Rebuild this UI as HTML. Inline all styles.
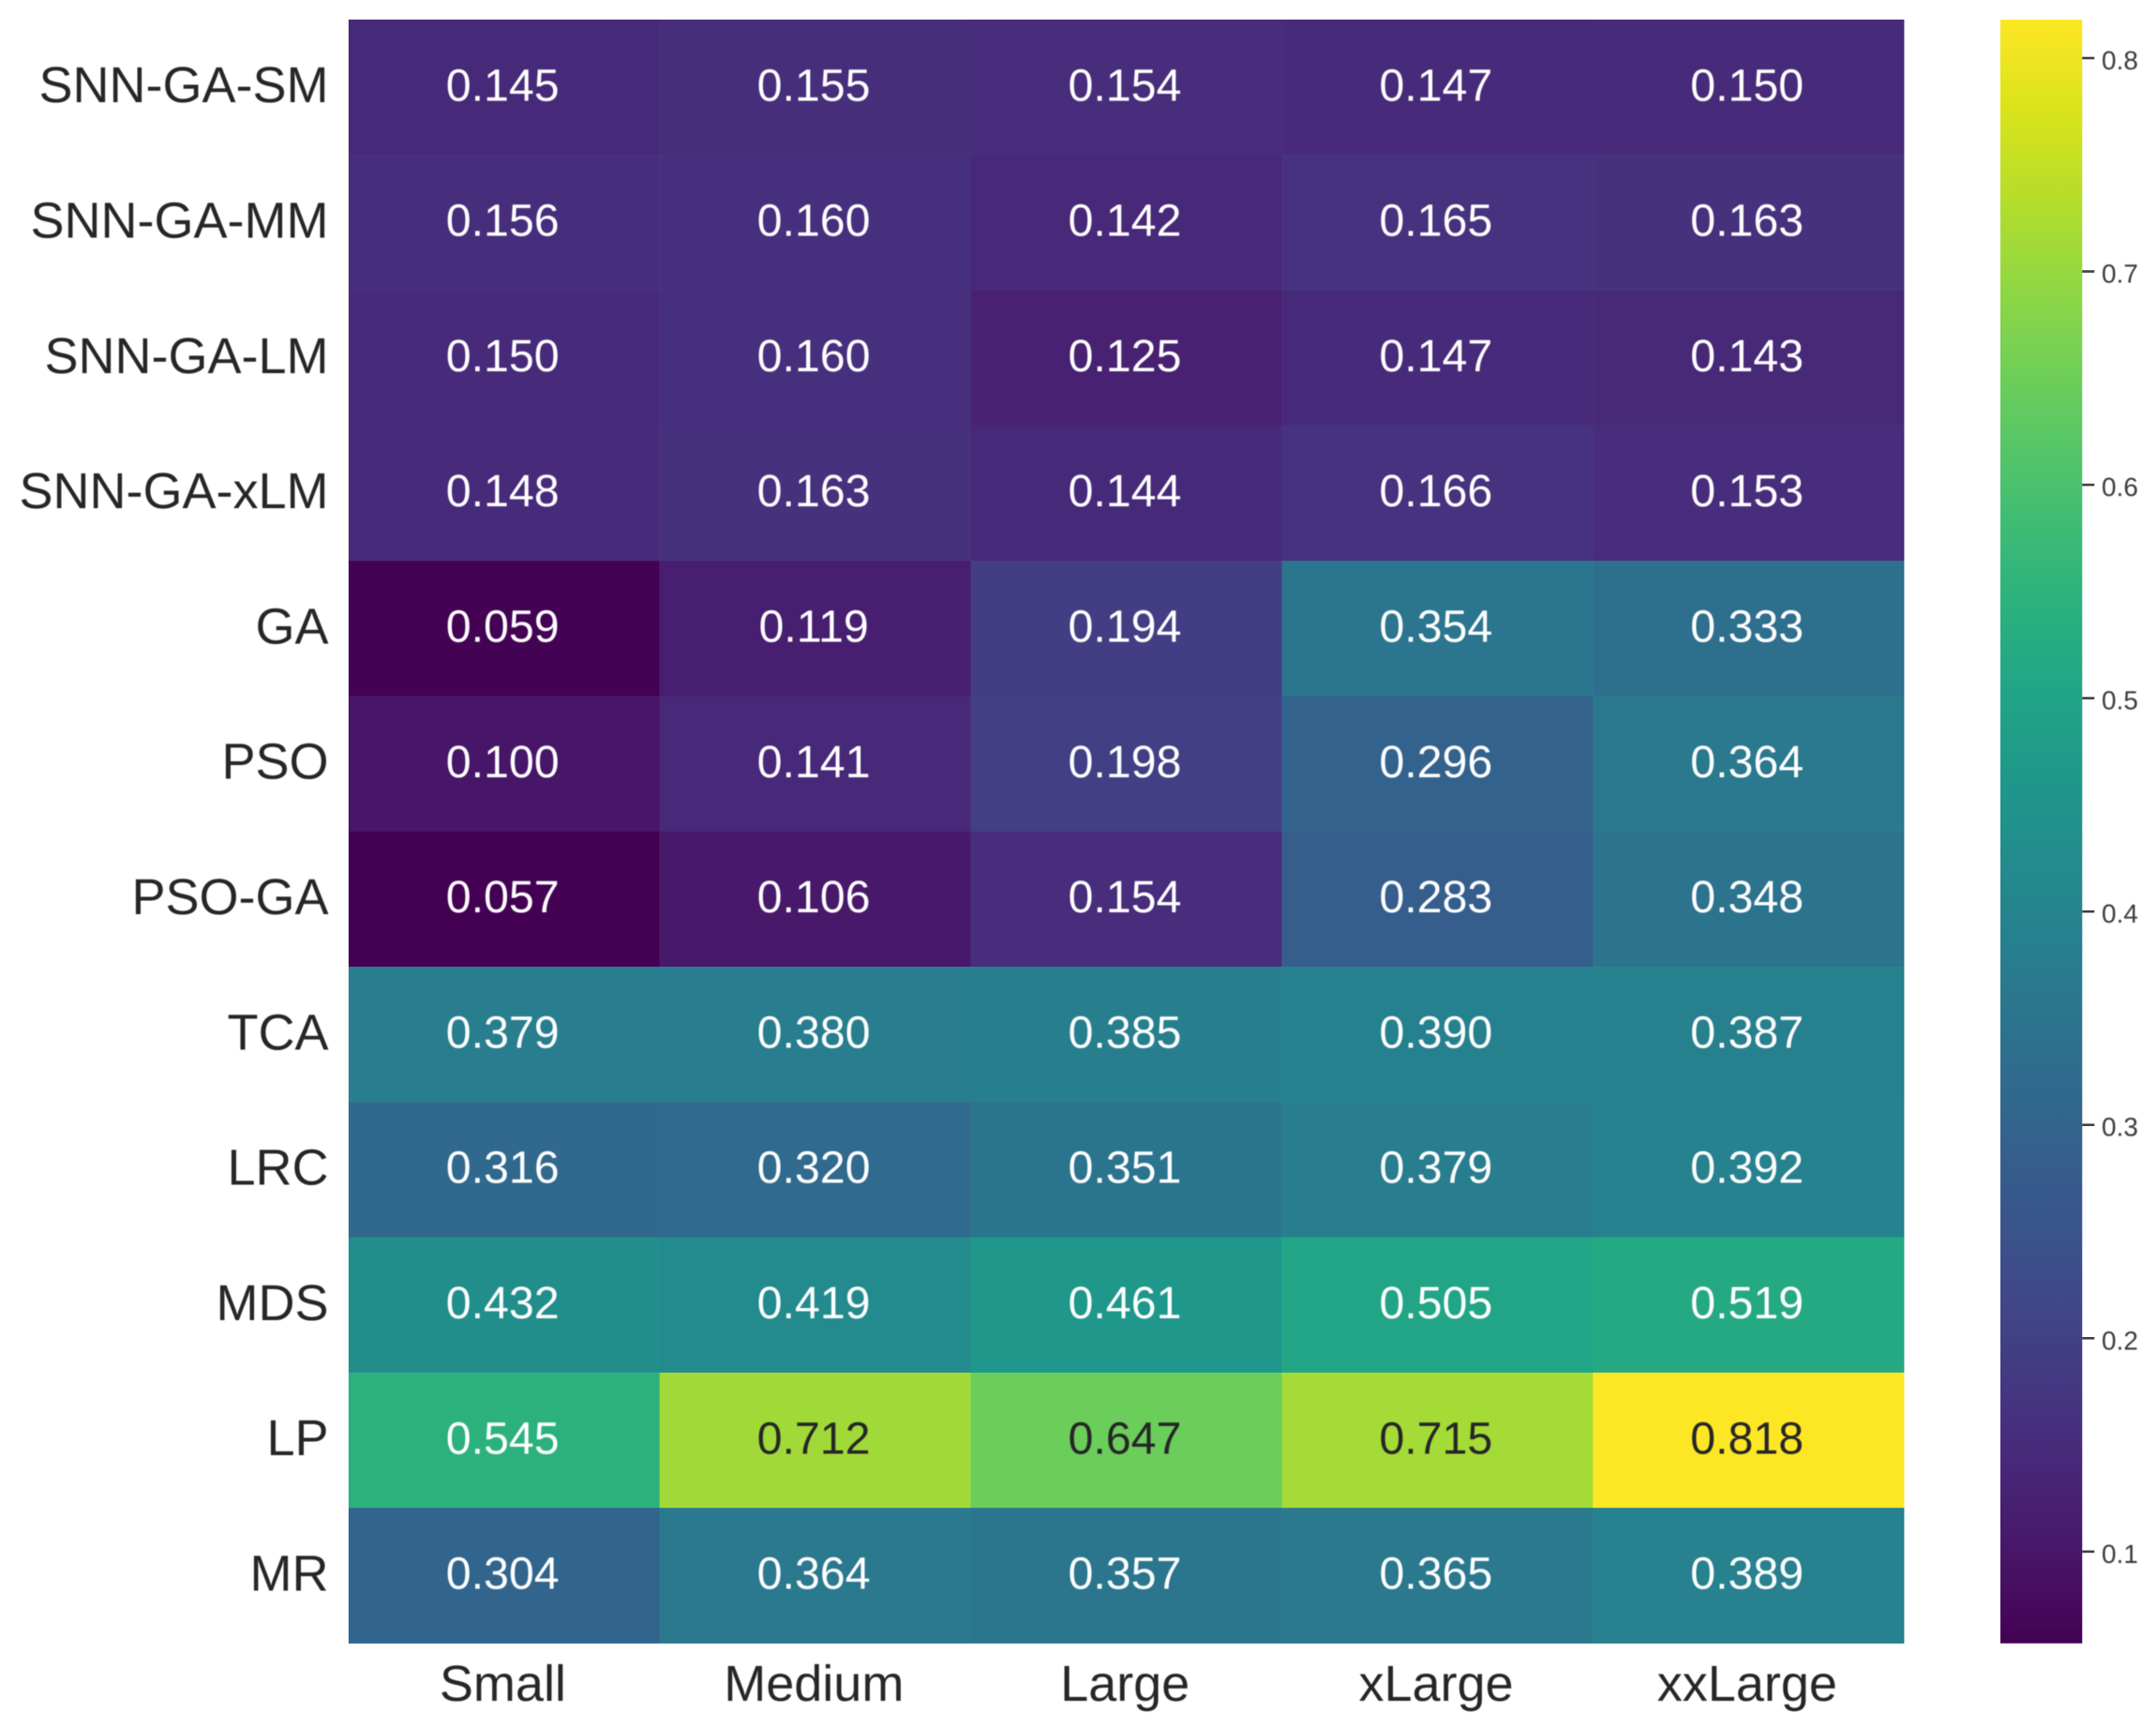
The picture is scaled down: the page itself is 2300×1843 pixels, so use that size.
<!DOCTYPE html>
<html lang="en">
<head>
<meta charset="utf-8">
<title>Heatmap</title>
<style>
html,body{margin:0;padding:0;background:#fff;width:2300px;height:1843px;overflow:hidden}
svg{display:block;font-family:"Liberation Sans",Arial,sans-serif}
text{filter:blur(0.5px);text-rendering:geometricPrecision}
</style>
</head>
<body>
<svg id="chart" xmlns="http://www.w3.org/2000/svg" width="2300" height="1843" viewBox="0 0 2300 1843">
<defs><linearGradient id="viridis-gradient" x1="0" y1="1" x2="0" y2="0"></linearGradient></defs>
<rect x="0" y="0" width="2300" height="1843" fill="#ffffff"></rect>
</svg>
<script>
const rowLabels = ["SNN-GA-SM","SNN-GA-MM","SNN-GA-LM","SNN-GA-xLM","GA","PSO","PSO-GA","TCA","LRC","MDS","LP","MR"];
const colLabels = ["Small","Medium","Large","xLarge","xxLarge"];
const rowSmall = [0.145,0.156,0.150,0.148,0.059,0.100,0.057,0.379,0.316,0.432,0.545,0.304];
const rowMedium = [0.155,0.160,0.160,0.163,0.119,0.141,0.106,0.380,0.320,0.419,0.712,0.364];
const rowLarge = [0.154,0.142,0.125,0.144,0.194,0.198,0.154,0.385,0.351,0.461,0.647,0.357];
const rowXLarge = [0.147,0.165,0.147,0.166,0.354,0.296,0.283,0.390,0.379,0.505,0.715,0.365];
const rowXxLarge = [0.150,0.163,0.143,0.153,0.333,0.364,0.348,0.387,0.392,0.519,0.818,0.389];
const colorbarTicks = [0.1,0.2,0.3,0.4,0.5,0.6,0.7,0.8];
const viridisStops = ["#440154","#481567","#482677","#453781","#404788","#39568c","#33638d","#2d708e","#287d8e","#238a8d","#1f968b","#20a387","#29af7f","#3cbb75","#55c667","#73d055","#95d840","#b8de29","#dce319","#fde725"];

const seriesByCol = [rowSmall,rowMedium,rowLarge,rowXLarge,rowXxLarge];
const NS = "http://www.w3.org/2000/svg";
const svg = document.getElementById("chart");
const plot = {left:372,right:2031.3,top:21,bottom:1752.7};
const bar = {left:2134,right:2221.3};
const allValues = seriesByCol.flat();
const vmin = Math.min(...allValues);
const vmax = Math.max(...allValues);

function xBand(c){return plot.left+(plot.right-plot.left)*c/colLabels.length;}
function yBand(r){return plot.top+(plot.bottom-plot.top)*r/rowLabels.length;}
function yBar(v){return plot.bottom-(plot.bottom-plot.top)*(v-vmin)/(vmax-vmin);}
function hexToRgb(h){return [1,3,5].map(function(i){return parseInt(h.slice(i,i+2),16);});}
function colorAt(v){
  const t=Math.max(0,Math.min(1,(v-vmin)/(vmax-vmin)))*(viridisStops.length-1);
  const i=Math.min(Math.floor(t),viridisStops.length-2);
  const a=hexToRgb(viridisStops[i]),b=hexToRgb(viridisStops[i+1]),f=t-i;
  return a.map(function(x,k){return Math.round(x+(b[k]-x)*f);});
}
function luminance(rgb){
  const l=rgb.map(function(x){const s=x/255;return s<=0.03928?s/12.92:Math.pow((s+0.055)/1.055,2.4);});
  return 0.2126*l[0]+0.7152*l[1]+0.0722*l[2];
}
function make(tag,attrs,text){
  const el=document.createElementNS(NS,tag);
  for(const k in attrs){el.setAttribute(k,attrs[k]);}
  if(text!==undefined){el.textContent=text;}
  return el;
}

const grad=document.getElementById("viridis-gradient");
viridisStops.forEach(function(c,i){
  grad.appendChild(make("stop",{offset:i/(viridisStops.length-1),"stop-color":c}));
});

colLabels.forEach(function(colName,c){
  rowLabels.forEach(function(rowName,r){
    const v=seriesByCol[c][r];
    const rgb=colorAt(v);
    const x0=xBand(c),x1=xBand(c+1),y0=yBand(r),y1=yBand(r+1);
    const cell=make("rect",{x:x0,y:y0,width:x1-x0,height:y1-y0,fill:"rgb("+rgb.join(",")+")","shape-rendering":"auto",stroke:"rgb("+rgb.join(",")+")","stroke-width":0.3});
    
    
    svg.appendChild(cell);
  });
});
colLabels.forEach(function(colName,c){
  rowLabels.forEach(function(rowName,r){
    const v=seriesByCol[c][r];
    const rgb=colorAt(v);
    const fill=luminance(rgb)<0.408?"#ffffff":"#262626";
    const t=make("text",{x:(xBand(c)+xBand(c+1))/2-1.7,y:(yBand(r)+yBand(r+1))/2+14.1,"text-anchor":"middle","font-size":48.3,fill:fill},v.toFixed(3));
    
    
    svg.appendChild(t);
  });
});
rowLabels.forEach(function(name,r){
  const t=make("text",{x:350.5,y:(yBand(r)+yBand(r+1))/2+16,"text-anchor":"end","font-size":54,fill:"#262626"},name);
  
  
  svg.appendChild(t);
});
colLabels.forEach(function(name,c){
  const t=make("text",{x:(xBand(c)+xBand(c+1))/2-1.5,y:1814,"text-anchor":"middle","font-size":54,fill:"#262626"},name);
  
  
  svg.appendChild(t);
});

const cbar=make("rect",{x:bar.left,y:plot.top,width:bar.right-bar.left,height:plot.bottom-plot.top,fill:"url(#viridis-gradient)"});


svg.appendChild(cbar);

colorbarTicks.forEach(function(v){
  const y=yBar(v);
  const tick=make("line",{x1:bar.right,x2:bar.right+13,y1:y,y2:y,stroke:"#404040","stroke-width":2.6});
  
  
  svg.appendChild(tick);
  const t=make("text",{x:2242,y:y+12,"font-size":28,fill:"#3a3a3a"},v.toFixed(1));
  
  
  svg.appendChild(t);
});
</script>
</body>
</html>
